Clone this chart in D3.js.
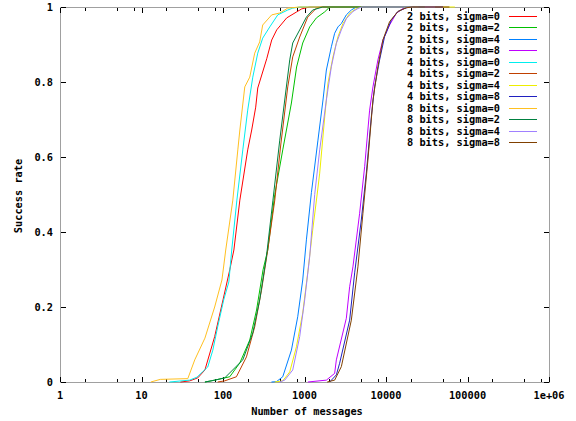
<!DOCTYPE html>
<html><head><meta charset="utf-8">
<script src="https://cdn.jsdelivr.net/npm/d3@7"></script>
<style>
body{margin:0;background:#fff}
svg text{font-family:"DejaVu Sans Mono",monospace;font-weight:bold;font-size:10.3px;fill:#000}
</style>
</head><body>
<svg id="chart" width="576" height="421"></svg>
<script>
// ---- data: [number of messages, success rate] ----
const legendLabels = ["2 bits, sigma=0","2 bits, sigma=2","2 bits, sigma=4","2 bits, sigma=8",
  "4 bits, sigma=0","4 bits, sigma=2","4 bits, sigma=4","4 bits, sigma=8",
  "8 bits, sigma=0","8 bits, sigma=2","8 bits, sigma=4","8 bits, sigma=8"];
const colors = ["#ff0000","#00c000","#0080ff","#c000ff","#00eeee","#c04000","#eeee00","#2020c0","#ffc020","#008040","#a080ff","#804000"];

const b2s0 = [[30,0],[39,.003],[49,.011],[60,.032],[79,.121],[100,.219],[121,.299],[136,.352],[161,.485],[201,.619],[225,.672],[252,.733],[267,.784],[344,.862],[396,.912],[456,.939],[605,.971],[802,.987],[924,.995],[1158,1],[20000,1]];
const b2s2 = [[60,0],[72,.003],[121,.014],[161,.051],[213,.112],[258,.192],[310,.299],[354,.352],[432,.5],[541,.619],[691,.744],[800,.84],[951,.904],[1158,.947],[1400,.971],[1770,.987],[2036,1],[30000,1]];
const b2s4 = [[393,0],[453,.001],[541,.014],[691,.085],[826,.174],[951,.272],[1055,.379],[1215,.505],[1463,.645],[1686,.752],[1855,.832],[2136,.894],[2344,.93],[2575,.947],[2833,.956],[3261,.979],[3755,.992],[4325,1],[40000,1]];
const b2s8 = [[1100,0],[1855,.005],[2344,.023],[2459,.059],[3261,.17],[3580,.254],[3928,.307],[4748,.45],[5470,.574],[6295,.725],[6915,.787],[7959,.859],[9163,.912],[11070,.952],[13370,.983],[16110,.996],[19450,1],[50000,1]];
const b4s0 = [[22,0],[39,.005],[48,.013],[56,.027],[65,.04],[75,.085],[86,.147],[102,.219],[118,.267],[128,.352],[148,.485],[175,.619],[201,.725],[232,.813],[267,.877],[307,.917],[375,.947],[470,.979],[623,.992],[717,.997],[873,1],[20000,1]];
const b4s2 = [[86,0],[105,.003],[146,.014],[194,.067],[245,.147],[297,.245],[354,.352],[432,.485],[511,.632],[623,.787],[717,.867],[873,.92],[1095,.973],[1400,.997],[1625,1],[30000,1]];
const b4s4 = [[432,0],[541,.003],[659,.027],[796,.094],[951,.184],[1095,.291],[1260,.405],[1452,.512],[1536,.557],[1770,.707],[1941,.797],[2235,.867],[2575,.921],[2965,.956],[3580,.983],[4325,.996],[4748,1],[70000,1]];
const b4s8 = [[2036,0],[2459,.019],[2698,.05],[3580,.165],[4124,.291],[4978,.432],[5737,.557],[6604,.707],[7250,.787],[8350,.859],[9609,.921],[11610,.965],[13990,.988],[17740,.998],[20000,1],[50000,1]];
const b8s0 = [[13,0],[17,.007],[37,.009],[45,.059],[60,.117],[79,.2],[97,.272],[108,.352],[132,.485],[152,.619],[161,.672],[185,.787],[213,.813],[245,.877],[282,.907],[307,.952],[396,.979],[497,.984],[623,.997],[873,1],[25000,1]];
const b8s2 = [[60,0],[79,.005],[105,.011],[175,.059],[232,.131],[282,.219],[341,.334],[410,.485],[497,.645],[572,.752],[659,.859],[717,.904],[873,.939],[1055,.973],[1260,.992],[1671,1],[30000,1]];
const b8s4 = [[497,0],[572,.005],[717,.032],[873,.121],[1005,.219],[1158,.334],[1334,.5],[1536,.619],[1855,.752],[2136,.841],[2459,.903],[2833,.939],[3261,.969],[3928,.988],[4525,.996],[5023,1],[40000,1]];
const b8s8 = [[1900,0],[2344,.005],[2833,.041],[3755,.165],[4525,.307],[5212,.45],[5998,.592],[6915,.752],[7959,.841],[9163,.912],[11070,.961],[13990,.988],[17740,.998],[21000,1],[60000,1]];
const allSeries = [b2s0,b2s2,b2s4,b2s8,b4s0,b4s2,b4s4,b4s8,b8s0,b8s2,b8s4,b8s8];

const xTicks = [1,10,100,1000,10000,100000,1000000];
const xTickLabels = ["1","10","100","1000","10000","100000","1e+06"];
const xMinorMult = [2,5,8];
const yTicks = [0,0.2,0.4,0.6,0.8,1];
const yTickLabels = ["0","0.2","0.4","0.6","0.8","1"];
const xTitle = "Number of messages";
const yTitle = "Success rate";

// ---- layout ----
const L = 60, R = 549, T = 7, B = 382;
const svg = d3.select("#chart");
const x = d3.scaleLog().domain([1,1e6]).range([L,R]);
const y = d3.scaleLinear().domain([0,1]).range([B,T]);

// frame
svg.append("rect").attr("x",L+0.5).attr("y",T+0.5).attr("width",R-L).attr("height",B-T)
  .attr("fill","none").attr("stroke","#a0a0a0").attr("stroke-width",1);

const minorTicks = [];
for (let e=0;e<6;e++) xMinorMult.forEach(m=>minorTicks.push(m*Math.pow(10,e)));

const tickG = svg.append("g").attr("stroke","#000").attr("stroke-width",1).attr("shape-rendering","crispEdges");
xTicks.forEach(t=>{
  const px = Math.round(x(t))+0.5;
  tickG.append("line").attr("x1",px).attr("x2",px).attr("y1",B).attr("y2",B-5);
  tickG.append("line").attr("x1",px).attr("x2",px).attr("y1",T+1).attr("y2",T+6);
});
minorTicks.forEach(t=>{
  const px = Math.round(x(t))+0.5;
  tickG.append("line").attr("x1",px).attr("x2",px).attr("y1",B).attr("y2",B-3);
  tickG.append("line").attr("x1",px).attr("x2",px).attr("y1",T+1).attr("y2",T+4);
});
yTicks.forEach(t=>{
  const py = Math.round(y(t))+0.5;
  tickG.append("line").attr("x1",L+1).attr("x2",L+6).attr("y1",py).attr("y2",py);
  tickG.append("line").attr("x1",R).attr("x2",R-5).attr("y1",py).attr("y2",py);
});

// tick labels
svg.append("g").selectAll("text").data(xTicks).join("text")
  .attr("x",d=>x(d)).attr("y",395).attr("text-anchor","middle").attr("dominant-baseline","central")
  .text((d,i)=>xTickLabels[i]);
svg.append("g").selectAll("text").data(yTicks).join("text")
  .attr("x",53).attr("y",d=>y(d)).attr("text-anchor","end").attr("dominant-baseline","central")
  .text((d,i)=>yTickLabels[i]);

svg.append("text").attr("x",307).attr("y",411).attr("text-anchor","middle").attr("dominant-baseline","central").text(xTitle);
svg.append("text").attr("transform","translate(18,196) rotate(-90)").attr("text-anchor","middle").attr("dominant-baseline","central").text(yTitle);

// curves
const line = d3.line().x(d=>x(d[0])).y(d=>y(d[1]));
allSeries.forEach((s,i)=>{
  svg.append("path").attr("d",line(s)).attr("fill","none").attr("stroke",colors[i]).attr("stroke-width",1);
});

// legend
const legY0 = 16, legDy = 11.45;
legendLabels.forEach((lab,i)=>{
  const yy = legY0 + i*legDy;
  svg.append("text").attr("x",500).attr("y",yy).attr("text-anchor","end").attr("dominant-baseline","central").text(lab);
  svg.append("line").attr("x1",509).attr("x2",537).attr("y1",Math.round(yy)+0.5).attr("y2",Math.round(yy)+0.5)
    .attr("stroke",colors[i]).attr("stroke-width",1);
});
</script>
</body></html>
